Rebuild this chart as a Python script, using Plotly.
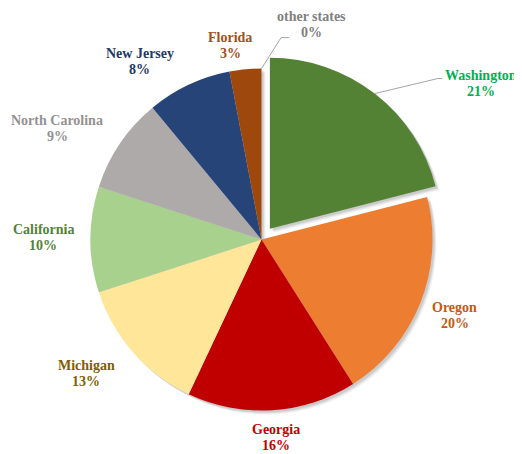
import math
import plotly.graph_objects as go

# ---- data ----
states = ["Washington", "Oregon", "Georgia", "Michigan", "California",
          "North Carolina", "New Jersey", "Florida", "other states"]
shares = [21, 20, 16, 13, 10, 9, 8, 3, 0]

# ---- styles ----
slice_colors = ["#548235", "#ED7D31", "#C00000", "#FFE699", "#A9D18E",
                "#AEAAAA", "#264478", "#9E480E", "#7F7F7F"]
label_colors = ["#00B050", "#C55A11", "#C00000", "#7F6000", "#548235",
                "#929292", "#1F3864", "#A0501A", "#808080"]
pulls = [0.08, 0, 0, 0, 0, 0, 0, 0, 0]
# label placement relative to slice mid-angle (degrees shift, radius factor)
label_shift = [16.8, 0.0, -0.7, 4.1, 0.5, -5.6, -9.2, -3.7, 13.0]
label_rad = [1.575, 1.215, 1.16, 1.29, 1.275, 1.36, 1.26, 1.15, 1.29]

# page is 522x454; the html body has an 8px margin, so the figure is smaller
PAGE_OFF = 8
W, H = 522 - PAGE_OFF, 454 - PAGE_OFF
CX, CY, R = 261.5, 239.5, 171.0   # in page pixels
FONT = "Liberation Serif"
LINE_GAP = 16


def px2paper(x, y):
    return (x - PAGE_OFF) / W, 1 - (y - PAGE_OFF) / H


half = R * (1 + max(pulls))
x0, y1 = px2paper(CX - half, CY - half)
x1, y0 = px2paper(CX + half, CY + half)
dom_x = [x0, x1]
dom_y = [y0, y1]

fig = go.Figure()

# soft shadow layers
for off, alpha in [(4, 0.05), (3, 0.07), (2, 0.09)]:
    fig.add_trace(go.Pie(
        labels=states, values=shares, sort=False, direction="clockwise",
        rotation=0, pull=pulls,
        marker=dict(colors=[f"rgba(0,0,0,{alpha})"] * len(states), line=dict(width=0)),
        textinfo="none", hoverinfo="skip", showlegend=False,
        domain=dict(x=[dom_x[0] + off / W, dom_x[1] + off / W],
                    y=[dom_y[0] - off / H, dom_y[1] - off / H]),
    ))

fig.add_trace(go.Pie(
    labels=states, values=shares, sort=False, direction="clockwise",
    rotation=0, pull=pulls,
    marker=dict(colors=slice_colors, line=dict(width=0)),
    textinfo="none", hoverinfo="label+percent", showlegend=False,
    domain=dict(x=dom_x, y=dom_y),
))

total = sum(shares)
cum = 0.0
annotations = []
shapes = []
mids = []
for i, (name, v) in enumerate(zip(states, shares)):
    mid = (cum + v / 2) / total * 360.0
    cum += v
    mids.append(mid)
    ang = math.radians(mid + label_shift[i])
    lx = CX + R * label_rad[i] * math.sin(ang)
    ly = CY - R * label_rad[i] * math.cos(ang)
    pct = round(v / total * 100)
    for txt, dy in [(name, -LINE_GAP / 2), (f"{pct}%", LINE_GAP / 2)]:
        pxp, pyp = px2paper(lx, ly + dy)
        annotations.append(dict(
            x=pxp, y=pyp, xref="paper", yref="paper", xanchor="center", yanchor="middle",
            text=txt, showarrow=False, borderpad=0,
            font=dict(family=FONT, size=14, color=label_colors[i], weight="bold"),
        ))


def leader(i, end_dx, end_dy, tail):
    a = math.radians(mids[i])
    pc_x = CX + pulls[i] * R * math.sin(a)
    pc_y = CY - pulls[i] * R * math.cos(a)
    sx = pc_x + R * math.sin(a)
    sy = pc_y - R * math.cos(a)
    la = math.radians(mids[i] + label_shift[i])
    lx = CX + R * label_rad[i] * math.sin(la)
    ly = CY - R * label_rad[i] * math.cos(la)
    ex, ey = lx + end_dx, ly + end_dy
    pts = [(sx, sy), (ex, ey), (ex + tail, ey)]
    path = "M " + " L ".join(f"{px2paper(x, y)[0]},{px2paper(x, y)[1]}" for x, y in pts)
    shapes.append(dict(type="path", path=path, xref="paper", yref="paper",
                       line=dict(color="#A6A6A6", width=1)))


leader(0, -43, -5, 4)   # Washington
leader(8, -30, 13, 8)   # other states

fig.update_layout(
    width=W, height=H, margin=dict(l=0, r=0, t=0, b=0),
    paper_bgcolor="white", plot_bgcolor="white",
    annotations=annotations, shapes=shapes,
)

fig.write_html("out.html")
